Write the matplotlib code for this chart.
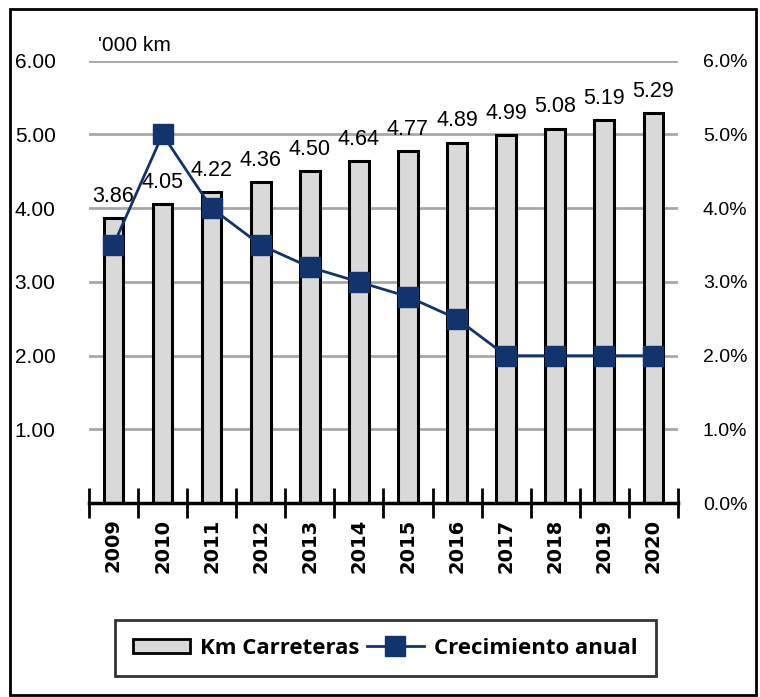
import matplotlib.pyplot as plt
import numpy as np
from matplotlib.patches import Rectangle
from matplotlib.lines import Line2D

# data
years = ['2009', '2010', '2011', '2012', '2013', '2014', '2015', '2016', '2017', '2018', '2019', '2020']
km_carreteras = [3.86, 4.05, 4.22, 4.36, 4.50, 4.64, 4.77, 4.89, 4.99, 5.08, 5.19, 5.29]
crecimiento = [3.5, 5.0, 4.0, 3.5, 3.2, 3.0, 2.8, 2.5, 2.0, 2.0, 2.0, 2.0]

narrow = ['Liberation Sans', 'DejaVu Sans']
navy = '#12336b'

fig = plt.figure(figsize=(7.6, 6.97), dpi=100)
ax = fig.add_axes([0.117, 0.278, 0.775, 0.635])
x = np.arange(len(years))

ax.bar(x, km_carreteras, width=0.4, color='#d9d9d9', edgecolor='black', linewidth=2.2, zorder=2)
for xi, v in zip(x, km_carreteras):
    ax.annotate(f'{v:.2f}', (xi, v), xytext=(0, 8), textcoords='offset points',
                ha='center', va='bottom', fontsize=15.5, family=narrow, zorder=5)

ax.set_xlim(-0.5, len(years) - 0.5)
ax.set_ylim(0, 6)
ax.set_yticks([1, 2, 3, 4, 5, 6])
ax.set_yticklabels(['1.00', '2.00', '3.00', '4.00', '5.00', '6.00'], family=narrow, fontsize=15)
ax.tick_params(axis='y', length=0, pad=24)
ax.yaxis.grid(True, color='#a8a8a8', linewidth=2)
ax.set_axisbelow(True)

for s in ['top', 'left', 'right']:
    ax.spines[s].set_visible(False)
ax.spines['bottom'].set_linewidth(2.5)

# ticks at category boundaries, labels at centres
ax.set_xticks(np.arange(-0.5, len(years), 1.0))
ax.set_xticklabels([])
ax.set_xticks(x, minor=True)
ax.set_xticklabels(years, minor=True, rotation=90, fontsize=14, fontweight='bold')
ax.tick_params(axis='x', which='major', direction='inout', length=22, width=2)
ax.tick_params(axis='x', which='minor', length=0, pad=11)

ax.text(0.015, 1.012, "'000 km", transform=ax.transAxes, fontsize=15, family=narrow,
        ha='left', va='bottom')

ax2 = ax.twinx()
ax2.plot(x, crecimiento, color=navy, linewidth=2, marker='s', markersize=15, zorder=4)
ax2.set_ylim(0, 6)
ax2.set_yticks([0, 1, 2, 3, 4, 5, 6])
ax2.set_yticklabels([f'{v:.1f}%' for v in range(7)], family=narrow, fontsize=14)
ax2.tick_params(axis='y', length=0, pad=18)
for s in ['top', 'left', 'right', 'bottom']:
    ax2.spines[s].set_visible(False)

handles = [Rectangle((0, 0), 1, 1, facecolor='#d9d9d9', edgecolor='black', linewidth=2),
           Line2D([0], [0], color=navy, linewidth=2, marker='s', markersize=15)]
leg = fig.legend(handles, ['Km Carreteras', 'Crecimiento anual'], loc='center',
                 bbox_to_anchor=(0.507, 0.07), ncol=2, frameon=True, fancybox=False,
                 edgecolor='black', prop={'family': 'Open Sans', 'weight': 'bold', 'size': 16},
                 handlelength=2.6, handleheight=0.55, columnspacing=0.3, borderpad=0.8,
                 handletextpad=0.45, borderaxespad=0)
leg.get_frame().set_linewidth(2)

fig.patches.append(Rectangle((0.013, 0.003), 0.982, 0.984, transform=fig.transFigure,
                             fill=False, edgecolor='black', linewidth=2))

fig.savefig('out.png', dpi=100)
